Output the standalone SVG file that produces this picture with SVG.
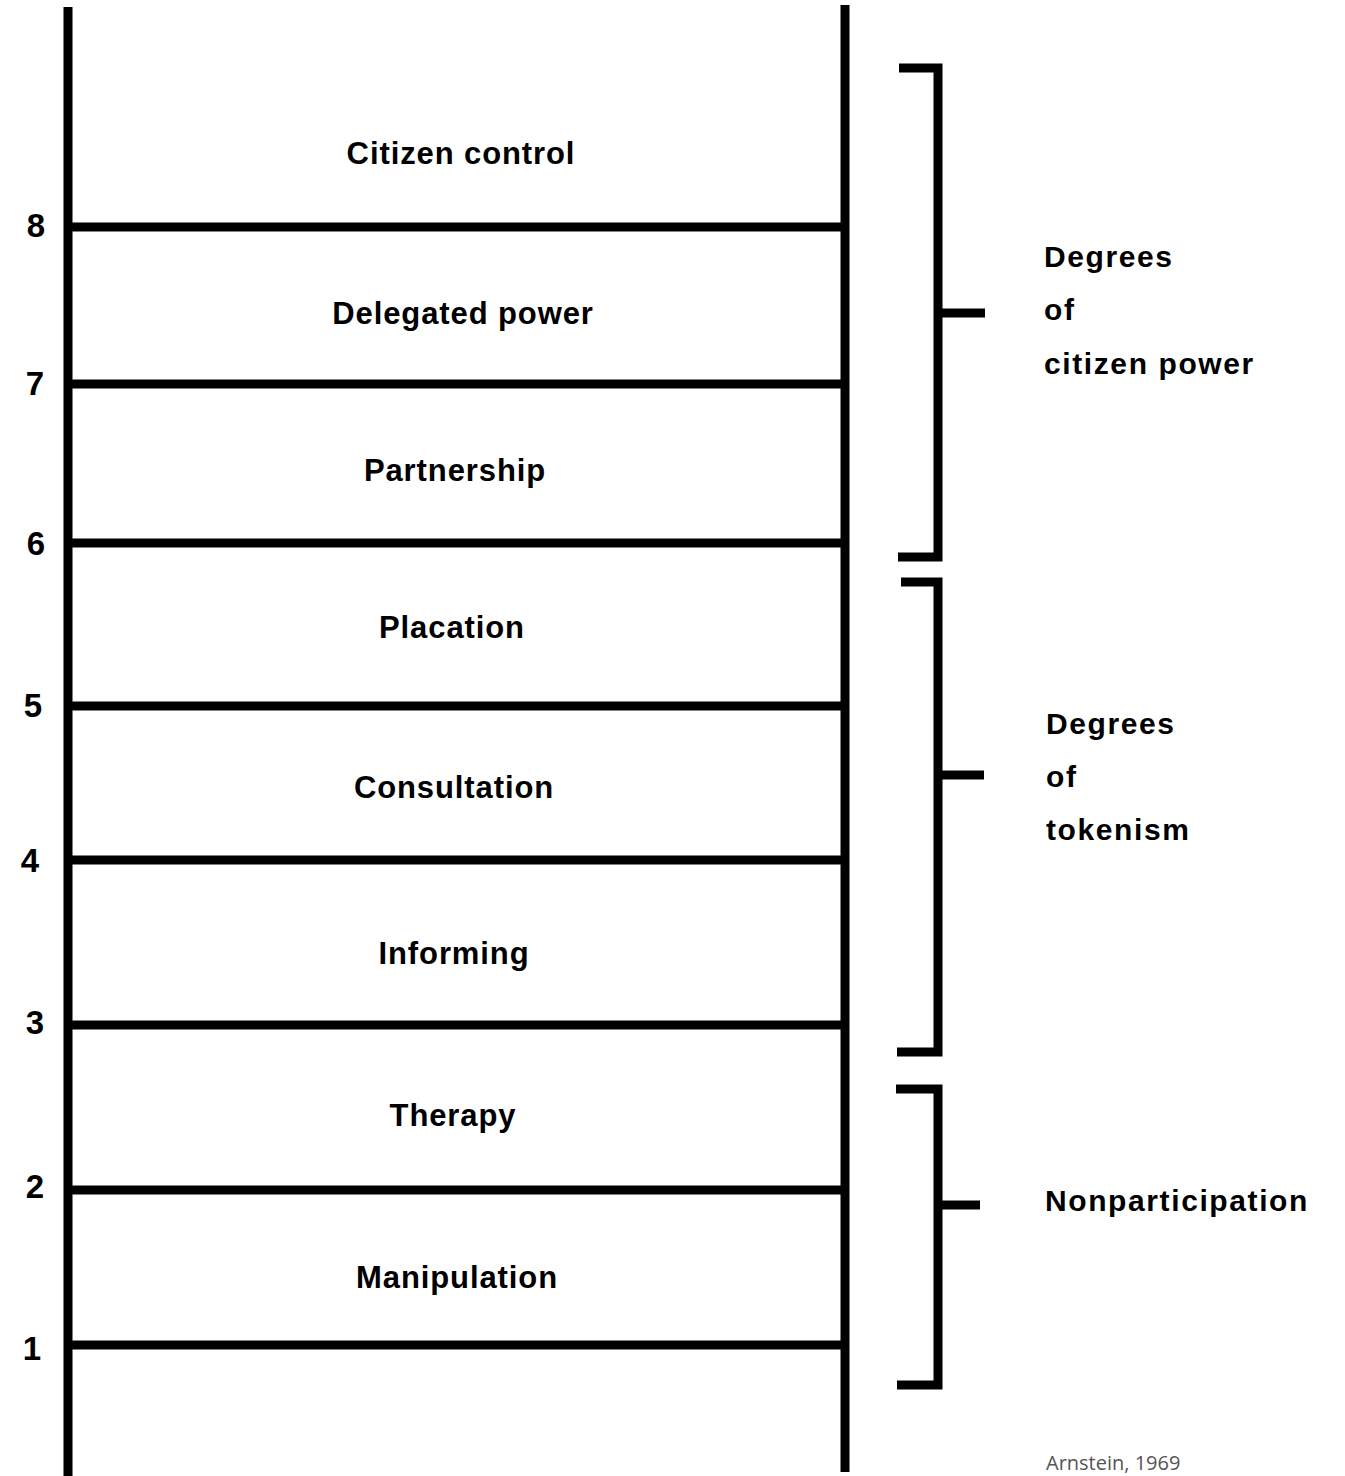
<svg xmlns="http://www.w3.org/2000/svg" width="1345" height="1476" viewBox="0 0 1345 1476">
<style>
.ln{stroke:#000;stroke-width:9;fill:none;stroke-linecap:butt}
.br{stroke:#000;stroke-width:9;fill:none;stroke-linejoin:miter}
.lbl{font-family:"Liberation Sans",Arial,sans-serif;font-weight:bold;font-size:31px;letter-spacing:0.9px;fill:#000;text-anchor:middle}
.num{font-family:"Liberation Sans",Arial,sans-serif;font-weight:bold;font-size:33px;fill:#000;text-anchor:middle}
.grp{font-family:"Liberation Sans",Arial,sans-serif;font-weight:bold;font-size:30px;letter-spacing:1.6px;fill:#000}
.cite{font-family:"Open Sans","Noto Sans",sans-serif;font-size:20px;fill:#555}
</style>
<rect width="1345" height="1476" fill="#fff"/>
<g id="connectors">
<line class="ln" x1="68" y1="7" x2="68" y2="1476"/>
<line class="ln" x1="845" y1="5" x2="845" y2="1472"/>
<line class="ln" x1="68" y1="227" x2="845" y2="227"/>
<line class="ln" x1="68" y1="384" x2="845" y2="384"/>
<line class="ln" x1="68" y1="543" x2="845" y2="543"/>
<line class="ln" x1="68" y1="706" x2="845" y2="706"/>
<line class="ln" x1="68" y1="860" x2="845" y2="860"/>
<line class="ln" x1="68" y1="1025" x2="845" y2="1025"/>
<line class="ln" x1="68" y1="1190" x2="845" y2="1190"/>
<line class="ln" x1="68" y1="1345" x2="845" y2="1345"/>
</g>
<g id="rung-numbers">
<text class="num" x="36" y="237">8</text>
<text class="num" x="35" y="395">7</text>
<text class="num" x="36" y="555">6</text>
<text class="num" x="33" y="717">5</text>
<text class="num" x="30" y="872">4</text>
<text class="num" x="35" y="1034">3</text>
<text class="num" x="35" y="1198">2</text>
<text class="num" x="32" y="1360">1</text>
</g>
<g id="node-citizen-control"><text class="lbl" x="461" y="164">Citizen control</text></g>
<g id="node-delegated-power"><text class="lbl" x="463" y="324">Delegated power</text></g>
<g id="node-partnership"><text class="lbl" x="455" y="481">Partnership</text></g>
<g id="node-placation"><text class="lbl" x="452" y="638">Placation</text></g>
<g id="node-consultation"><text class="lbl" x="454" y="798">Consultation</text></g>
<g id="node-informing"><text class="lbl" x="454" y="964">Informing</text></g>
<g id="node-therapy"><text class="lbl" x="453" y="1126">Therapy</text></g>
<g id="node-manipulation"><text class="lbl" x="457" y="1288">Manipulation</text></g>
<g id="group-citizen-power">
<polyline class="br" points="899,68 938,68 938,557 898,557"/>
<line class="ln" x1="938" y1="313" x2="985" y2="313"/>
<text class="grp" x="1044" y="267">Degrees</text>
<text class="grp" x="1044" y="320">of</text>
<text class="grp" x="1044" y="374">citizen power</text>
</g>
<g id="group-tokenism">
<polyline class="br" points="901,582 938,582 938,1052 897,1052"/>
<line class="ln" x1="938" y1="775" x2="984" y2="775"/>
<text class="grp" x="1046" y="734">Degrees</text>
<text class="grp" x="1046" y="787">of</text>
<text class="grp" x="1046" y="840">tokenism</text>
</g>
<g id="group-nonparticipation">
<polyline class="br" points="896,1089 938,1089 938,1385 897,1385"/>
<line class="ln" x1="938" y1="1205" x2="980" y2="1205"/>
<text class="grp" x="1045" y="1211">Nonparticipation</text>
</g>
<text class="cite" x="1046" y="1470">Arnstein, 1969</text>
</svg>
